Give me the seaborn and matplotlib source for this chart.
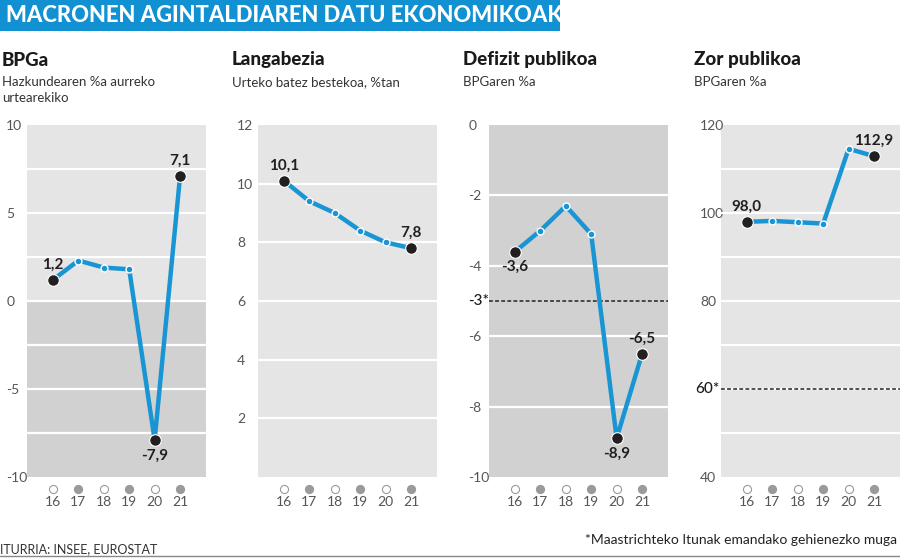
import matplotlib.pyplot as plt
import matplotlib.patches as mpatches
import matplotlib.lines as mlines
import numpy as np
import pandas as pd
import seaborn as sns

sns.set_theme(style="white")
plt.rcParams.update({
    "font.family": ["Lato", "DejaVu Sans"],
    "axes.spines.top": False,
    "axes.spines.right": False,
    "axes.spines.left": False,
    "axes.spines.bottom": False,
})

LINE_BLUE = "#1a95d3"
DOT_BLACK = "#231f20"
BG_LIGHT = "#e5e5e5"
BG_DARK = "#d1d1d1"
TICK_GREY = "#555555"

# ---------------------------------------------------------------------------
# Data
# ---------------------------------------------------------------------------
years = [16, 17, 18, 19, 20, 21]
year_labels = ["16", "17", "18", "19", "20", "21"]

bpg = [1.2, 2.3, 1.9, 1.8, -7.9, 7.1]
langabezia = [10.1, 9.4, 9.0, 8.4, 8.0, 7.8]
defizita = [-3.6, -3.0, -2.3, -3.1, -8.9, -6.5]
zorra = [98.0, 98.2, 97.9, 97.6, 114.6, 112.9]

titles = ["BPGa", "Langabezia", "Defizit publikoa", "Zor publikoa"]
subtitles = ["Hazkundearen %a aurreko\nurtearekiko", "Urteko batez bestekoa, %tan",
             "BPGaren %a", "BPGaren %a"]

# the original graphic draws the "-3*" reference line at the -5 level
panels = [
    dict(values=bpg, ylim=(-10, 10), ticks=[-10, -5, 0, 5, 10], grid=2.5,
         labels={0: "above", 4: "below", 5: "above"}, limit=None),
    dict(values=langabezia, ylim=(0, 12), ticks=[2, 4, 6, 8, 10, 12], grid=2,
         labels={0: "above", 5: "above"}, limit=None),
    dict(values=defizita, ylim=(-10, 0), ticks=[-10, -8, -6, -4, -2, 0], grid=2,
         labels={0: "below", 4: "below", 5: "above"}, limit=(-5, "-3*")),
    dict(values=zorra, ylim=(40, 120), ticks=[40, 80, 100, 120], grid=10,
         labels={0: "above", 5: "above"}, limit=(60, "60*")),
]

W, H = 900, 558
lefts = [27, 258, 489, 721]
AX_W, AX_TOP, AX_BOT = 179, 125, 477


def fmt(v):
    return f"{v:.1f}".replace(".", ",")


def draw_panel(ax, p):
    lo, hi = p["ylim"]
    # background: light above zero, darker below zero
    if hi > 0:
        ax.axhspan(max(lo, 0), hi, color=BG_LIGHT, zorder=0, lw=0)
    if lo < 0:
        ax.axhspan(lo, min(hi, 0), color=BG_DARK, zorder=0, lw=0)
    for g in np.arange(lo + p["grid"], hi, p["grid"]):
        ax.axhline(g, color="white", lw=1.6, zorder=1)

    if p["limit"] is not None:
        val, txt = p["limit"]
        ax.axhline(val, color="#222222", lw=1.1, ls=(0, (2.5, 1.5)), zorder=2)
        ax.text(-0.118 if val < 0 else -0.145, val, txt, transform=ax.get_yaxis_transform(),
                ha="left", va="center", fontsize=11, color="#1a1a1a", fontweight="medium")

    df = pd.DataFrame({"year": years, "value": p["values"]})
    sns.lineplot(data=df, x="year", y="value", ax=ax, color=LINE_BLUE, lw=3.2,
                 marker="o", markersize=5, markeredgecolor="white",
                 markeredgewidth=1.0, zorder=3)
    ends = df.iloc[list(p["labels"].keys())]
    sns.scatterplot(data=ends, x="year", y="value", ax=ax, color=DOT_BLACK, s=70,
                    edgecolor="white", linewidth=0.8, zorder=4)
    for i, pos in p["labels"].items():
        dy = 11 if pos == "above" else -11
        ax.annotate(fmt(p["values"][i]), (years[i], p["values"][i]), xytext=(0, dy),
                    textcoords="offset points", ha="center", va="center",
                    fontsize=11, fontweight="bold", color=DOT_BLACK, zorder=5)

    # alternating year markers under the axis
    xt = ax.get_xaxis_transform()
    for k, yr in enumerate(years):
        face = "white" if k % 2 == 0 else "#9a9a9a"
        ax.scatter([yr], [-0.034], transform=xt, s=34, facecolor=face,
                   edgecolor="#9a9a9a", linewidth=0.8, clip_on=False, zorder=5)

    ax.set_xlim(14.98, 22.02)
    ax.set_ylim(lo, hi)
    ax.set_xticks(years)
    ax.set_xticklabels(year_labels)
    ax.set_yticks(p["ticks"])
    ax.set_yticklabels([str(t) for t in p["ticks"]])
    ax.tick_params(axis="x", length=0, pad=14, labelsize=10, labelcolor=TICK_GREY)
    ax.tick_params(axis="y", length=0, pad=15, labelsize=10, labelcolor=TICK_GREY)
    for lab in ax.get_yticklabels():
        lab.set_horizontalalignment("left")
    ax.set_xlabel("")
    ax.set_ylabel("")
    ax.grid(False)
    ax.set_facecolor("white")


fig = plt.figure(figsize=(W / 100, H / 100), dpi=100)

# header bar
fig.add_artist(mpatches.Rectangle((0, 1 - 31 / H), 560 / W, 31 / H,
                                  transform=fig.transFigure, color="#1190d2", lw=0))
fig.text(6 / W, 1 - 16 / H, "MACRONEN AGINTALDIAREN DATU EKONOMIKOAK", color="white",
         fontsize=15.8, fontweight="black", ha="left", va="center")

title_x = [2, 232, 463, 694]
for k, p in enumerate(panels):
    ax = fig.add_axes([lefts[k] / W, 1 - AX_BOT / H, AX_W / W, (AX_BOT - AX_TOP) / H])
    draw_panel(ax, p)
    fig.text(title_x[k] / W, 1 - 60 / H, titles[k], fontsize=13.5, fontweight="black",
             color="#1a1a1a", ha="left", va="center")
    fig.text(title_x[k] / W, 1 - 76 / H, subtitles[k], fontsize=9.5, color="#333333",
             ha="left", va="top", linespacing=1.35)

fig.text(0, 1 - 549 / H, "ITURRIA: INSEE, EUROSTAT", fontsize=9, color="#333333",
         ha="left", va="center")
fig.text(897 / W, 1 - 540 / H, "*Maastrichteko Itunak emandako gehienezko muga",
         fontsize=10, color="#222222", ha="right", va="center")
fig.add_artist(mlines.Line2D([0, 1], [1 - 556 / H] * 2, transform=fig.transFigure,
                             color="#888888", lw=1))

fig.savefig("out.png", dpi=100)
